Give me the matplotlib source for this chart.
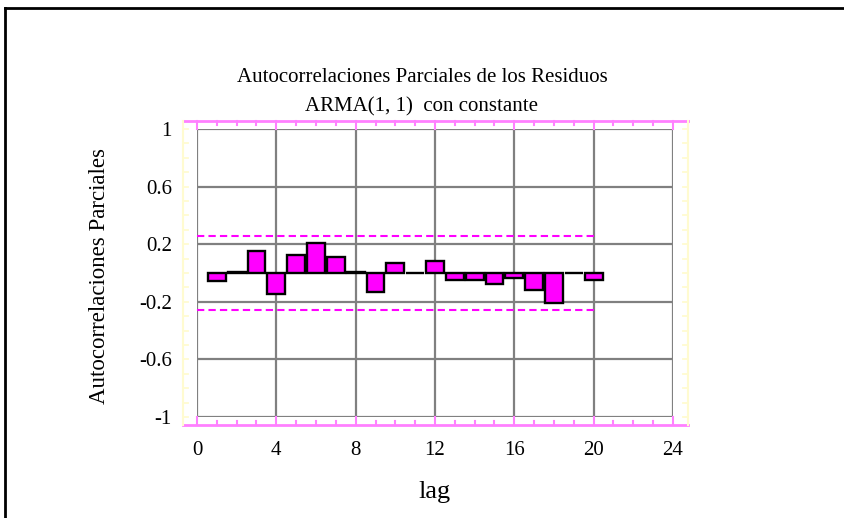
import matplotlib
matplotlib.use("Agg")
import matplotlib.pyplot as plt
from matplotlib.lines import Line2D
import numpy as np

# ---- data ----
lags = list(range(1, 21))
pacf = [-0.059, 0.008, 0.154, -0.147, 0.125, 0.208, 0.114, 0.006, -0.133, 0.069,
        0.001, 0.083, -0.047, -0.047, -0.076, -0.033, -0.118, -0.206, 0.002, -0.047]
conf_band = 0.256
x_ticks = [0, 4, 8, 12, 16, 20, 24]
y_ticks = [-1, -0.6, -0.2, 0.2, 0.6, 1]
y_tick_labels = ["-1", "-0.6", "-0.2", "0.2", "0.6", "1"]
title = "Autocorrelaciones Parciales de los Residuos"
subtitle = "ARMA(1, 1)  con constante"
xlabel = "lag"
ylabel = "Autocorrelaciones Parciales"

plt.rcParams['font.family'] = ['Liberation Serif', 'DejaVu Serif']

W, H = 845, 518
fig = plt.figure(figsize=(W / 100, H / 100), dpi=100)

def fx(px):
    return px / W

def fy(py):
    return 1 - py / H

# plot area in pixels
L, R, T, B = 197, 673, 129, 417
ax = fig.add_axes([fx(L), fy(B), (R - L) / W, (B - T) / H])
ax.set_xlim(0, 24)
ax.set_ylim(-1, 1)
for s in ax.spines.values():
    s.set_visible(False)
ax.set_xticks(x_ticks)
ax.set_yticks(y_ticks)
ax.set_yticklabels(y_tick_labels)
ax.tick_params(axis='both', length=0, labelsize=15)
ax.tick_params(axis='x', pad=17)
ax.tick_params(axis='y', pad=18)
ax.grid(True, color='#808080', lw=1.6)
ax.set_axisbelow(True)

ax.bar(lags, pacf, width=0.9, color='#FF00FF', edgecolor='black', lw=1.7, zorder=3)
ax.plot([0, 20], [conf_band, conf_band], color='#FF00FF', lw=1.5, ls=(0, (3.5, 2)), zorder=2)
ax.plot([0, 20], [-conf_band, -conf_band], color='#FF00FF', lw=1.5, ls=(0, (3.5, 2)), zorder=2)

# frame around plot: pink horizontal, pale yellow vertical
pink = '#FF80FF'
yel = '#FFFBD0'
xl, xr, yt, yb = 183, 688, 121, 425
fig.add_artist(Line2D([fx(xl), fx(xr)], [fy(yb), fy(yb)], color=pink, lw=2))
fig.add_artist(Line2D([fx(xl), fx(xr)], [fy(yt), fy(yt)], color=pink, lw=2))
fig.add_artist(Line2D([fx(xl), fx(xl)], [fy(yt), fy(yb)], color=yel, lw=1.5))
fig.add_artist(Line2D([fx(xr), fx(xr)], [fy(yt), fy(yb)], color=yel, lw=1.5))
# pink ticks
for v in range(0, 25):
    px = L + (R - L) * v / 24
    ln = 8 if v % 4 == 0 else 4
    fig.add_artist(Line2D([fx(px), fx(px)], [fy(yb), fy(yb - ln)], color=pink, lw=1.5))
    fig.add_artist(Line2D([fx(px), fx(px)], [fy(yt), fy(yt + ln)], color=pink, lw=1.5))
# yellow ticks
for k in range(-10, 11):
    v = k / 10
    py = B - (B - T) * (v + 1) / 2
    fig.add_artist(Line2D([fx(xl), fx(xl + 5)], [fy(py), fy(py)], color=yel, lw=1.3))
    fig.add_artist(Line2D([fx(xr), fx(xr - 5)], [fy(py), fy(py)], color=yel, lw=1.3))

# titles and labels
fig.text(fx(422), fy(78), title, ha='center', va='center', fontsize=15)
fig.text(fx(422), fy(107), subtitle, ha='center', va='center', fontsize=15)
fig.text(fx(435), fy(492), xlabel, ha='center', va='center', fontsize=19)
fig.text(fx(100), fy(276), ylabel, ha='center', va='center', rotation=90, fontsize=16.5)

# outer border (top and left)
fig.add_artist(Line2D([fx(5), fx(845)], [fy(8), fy(8)], color='black', lw=2))
fig.add_artist(Line2D([fx(5), fx(5)], [fy(8), fy(518)], color='black', lw=2))

fig.savefig("out.png", dpi=100)
